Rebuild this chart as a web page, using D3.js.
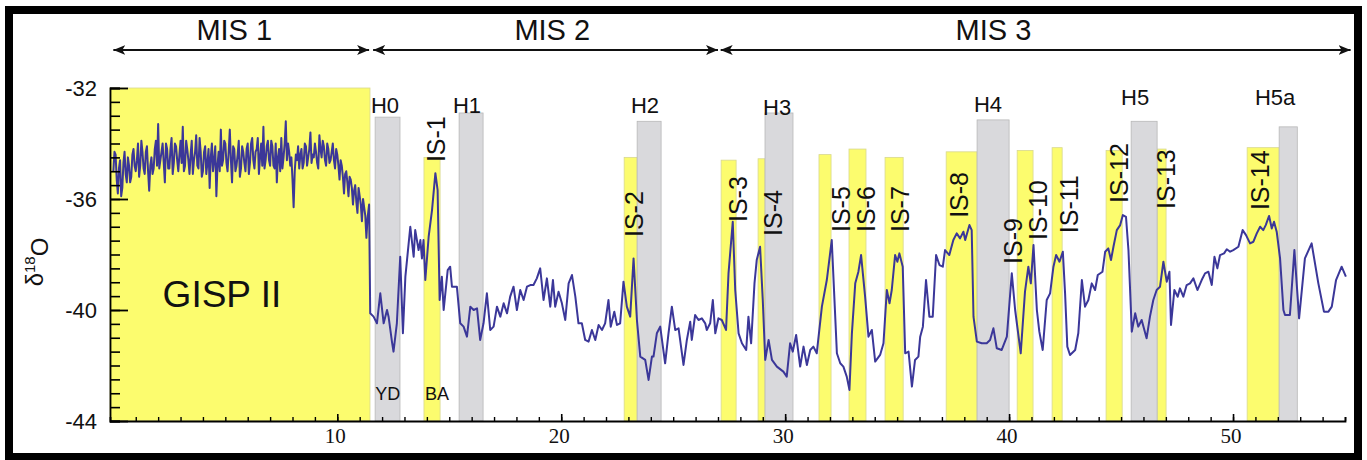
<!DOCTYPE html>
<meta charset="utf-8"/>
<style>
  html, body { margin: 0; padding: 0; background: #fff; }
  svg { display: block; }
  text { font-family: "Liberation Sans", Arial, sans-serif; fill: #111; }
  .tick-num { font-family: "Liberation Serif", "DejaVu Serif", serif; }
</style>
<body>
<svg width="1367" height="460"></svg>
</body>
<script src="https://d3js.org/d3.v7.min.js"></script>
<script>

  // GISP II d18O record, [age ka, d18O permil]
  var gispRecord = [
    [0.0,-35.0],[0.05,-34.3],[0.1,-34.4],[0.15,-35.3],[0.2,-35.8],[0.25,-34.9],[0.3,-34.6],[0.35,-35.9],
    [0.4,-35.6],[0.45,-34.7],[0.5,-34.3],[0.55,-35.1],[0.6,-35.4],[0.65,-34.5],[0.7,-34.8],[0.75,-35.4],
    [0.8,-35.2],[0.85,-34.4],[0.9,-34.2],[0.95,-34.8],[1.0,-35.0],[1.05,-34.6],[1.1,-34.0],[1.15,-35.2],
    [1.2,-34.8],[1.25,-33.9],[1.3,-34.3],[1.35,-34.9],[1.4,-35.1],[1.45,-34.3],[1.5,-34.1],[1.55,-35.0],
    [1.6,-35.7],[1.65,-34.8],[1.7,-34.5],[1.75,-35.1],[1.8,-34.9],[1.85,-34.2],[1.9,-33.9],[1.95,-34.8],
    [2.0,-33.3],[2.05,-34.9],[2.1,-34.6],[2.15,-34.3],[2.2,-34.0],[2.25,-34.7],[2.3,-35.4],[2.35,-34.0],
    [2.4,-34.2],[2.45,-34.9],[2.5,-34.9],[2.55,-34.2],[2.6,-33.8],[2.65,-35.1],[2.7,-34.7],[2.75,-34.0],
    [2.8,-34.1],[2.85,-34.6],[2.9,-35.0],[2.95,-34.4],[3.0,-33.9],[3.05,-34.7],[3.1,-33.4],[3.15,-35.0],
    [3.2,-34.8],[3.25,-33.9],[3.3,-34.2],[3.35,-34.6],[3.4,-35.1],[3.45,-34.4],[3.5,-33.9],[3.55,-35.1],
    [3.6,-34.6],[3.65,-34.3],[3.7,-33.7],[3.75,-34.8],[3.8,-34.9],[3.85,-33.8],[3.9,-34.3],[3.95,-35.2],
    [4.0,-35.0],[4.05,-34.3],[4.1,-34.1],[4.15,-35.1],[4.2,-34.7],[4.25,-34.2],[4.3,-35.6],[4.35,-34.5],
    [4.4,-34.0],[4.45,-35.0],[4.5,-34.6],[4.55,-34.1],[4.6,-35.9],[4.65,-34.8],[4.7,-34.3],[4.75,-35.0],
    [4.8,-33.5],[4.85,-34.8],[4.9,-34.6],[4.95,-33.9],[5.0,-34.0],[5.05,-34.7],[5.1,-35.0],[5.15,-34.3],
    [5.2,-33.5],[5.25,-34.6],[5.3,-35.4],[5.35,-34.1],[5.4,-34.2],[5.45,-35.0],[5.5,-34.8],[5.55,-34.4],
    [5.6,-33.9],[5.65,-35.2],[5.7,-34.9],[5.75,-34.1],[5.8,-34.3],[5.85,-34.7],[5.9,-35.0],[5.95,-34.2],
    [6.0,-34.0],[6.05,-35.1],[6.1,-34.7],[6.15,-34.0],[6.2,-33.8],[6.25,-34.6],[6.3,-34.9],[6.35,-34.3],
    [6.4,-34.2],[6.45,-33.8],[6.5,-35.1],[6.55,-34.5],[6.6,-34.0],[6.65,-34.8],[6.7,-33.4],[6.75,-34.9],
    [6.8,-34.6],[6.85,-34.1],[6.9,-33.9],[6.95,-34.6],[7.0,-34.8],[7.05,-33.9],[7.1,-34.1],[7.15,-34.8],
    [7.2,-34.9],[7.25,-34.0],[7.3,-35.4],[7.35,-34.5],[7.4,-34.2],[7.45,-35.0],[7.5,-33.8],[7.55,-34.9],
    [7.6,-34.5],[7.65,-34.0],[7.7,-33.2],[7.75,-34.6],[7.8,-34.0],[7.85,-34.3],[7.9,-34.8],[7.95,-34.5],
    [8.0,-35.3],[8.05,-36.3],[8.1,-35.0],[8.15,-34.4],[8.2,-34.6],[8.25,-34.1],[8.3,-34.9],[8.35,-34.4],
    [8.4,-34.2],[8.45,-34.9],[8.5,-34.7],[8.55,-34.0],[8.6,-34.1],[8.65,-34.8],[8.7,-34.5],[8.75,-34.2],
    [8.8,-33.6],[8.85,-34.7],[8.9,-34.4],[8.95,-34.5],[9.0,-34.0],[9.05,-34.3],[9.1,-34.7],[9.15,-34.9],
    [9.2,-33.7],[9.25,-34.2],[9.3,-34.5],[9.35,-33.9],[9.4,-34.1],[9.45,-34.6],[9.5,-34.8],[9.55,-34.0],
    [9.6,-34.2],[9.65,-34.7],[9.7,-34.6],[9.75,-34.3],[9.8,-34.0],[9.85,-34.6],[9.9,-34.9],[9.95,-34.2],
    [10.0,-34.4],[10.05,-34.8],[10.1,-35.3],[10.15,-34.6],[10.2,-34.8],[10.25,-35.2],[10.3,-35.8],[10.35,-35.1],
    [10.4,-35.0],[10.45,-35.4],[10.5,-35.9],[10.55,-35.2],[10.6,-35.3],[10.65,-35.6],[10.7,-36.2],[10.75,-35.7],
    [10.8,-35.5],[10.85,-36.1],[10.9,-36.5],[10.95,-35.6],[11.0,-35.9],[11.05,-36.2],[11.1,-36.8],[11.15,-36.0],
    [11.2,-36.3],[11.25,-36.6],[11.3,-37.4],[11.35,-36.7],[11.42,-36.2],
    [11.47,-40.12],[11.62,-40.24],[11.77,-40.48],[11.92,-39.40],[12.07,-40.48],[12.22,-40.0],[12.29,-40.24],
    [12.44,-41.14],[12.51,-41.50],[12.66,-40.48],[12.81,-38.08],[12.93,-40.84],[13.04,-38.80],[13.26,-37.00],
    [13.41,-38.08],[13.48,-37.12],[13.63,-37.84],[13.71,-37.48],[13.78,-38.14],[13.85,-37.48],[13.93,-38.92],
    [14.08,-37.36],[14.23,-36.40],[14.38,-35.07],[14.48,-35.68],[14.57,-39.64],[14.67,-38.80],[14.75,-40.0],
    [14.93,-38.56],[15.04,-38.44],[15.12,-39.16],[15.34,-39.16],[15.49,-40.48],[15.64,-40.60],[15.79,-40.96],
    [15.94,-39.88],[16.09,-40.0],[16.24,-39.94],[16.38,-41.08],[16.53,-40.48],[16.68,-39.40],[16.83,-40.72],
    [16.98,-40.60],[17.13,-39.88],[17.28,-40.24],[17.43,-39.76],[17.58,-40.12],[17.72,-39.52],[17.87,-39.16],
    [18.02,-40.0],[18.17,-39.28],[18.32,-39.64],[18.47,-39.16],[18.62,-39.10],[18.76,-39.10],[18.91,-38.86],
    [19.06,-38.50],[19.21,-39.64],[19.36,-38.86],[19.51,-39.88],[19.63,-38.92],[19.73,-39.88],[19.88,-39.34],
    [20.03,-39.76],[20.18,-40.36],[20.33,-39.04],[20.48,-38.74],[20.63,-39.52],[20.77,-40.48],[20.92,-40.48],
    [21.07,-41.08],[21.22,-41.14],[21.37,-40.72],[21.52,-41.08],[21.67,-40.54],[21.82,-40.72],[21.96,-40.48],
    [22.11,-39.64],[22.21,-40.60],[22.37,-40.06],[22.49,-40.54],[22.63,-40.48],[22.78,-38.98],[22.93,-39.88],
    [23.08,-40.24],[23.23,-38.14],[23.38,-40.36],[23.53,-41.68],[23.75,-41.80],[23.90,-42.52],[24.05,-41.68],
    [24.12,-41.68],[24.27,-40.84],[24.42,-40.60],[24.64,-41.92],[24.79,-40.84],[24.94,-39.88],[25.09,-40.72],
    [25.24,-40.66],[25.46,-41.98],[25.61,-41.08],[25.76,-40.42],[25.83,-41.08],[25.98,-40.18],[26.13,-40.36],
    [26.28,-40.30],[26.43,-40.48],[26.50,-40.72],[26.65,-40.48],[26.77,-39.64],[26.88,-40.84],[27.02,-40.30],
    [27.17,-40.36],[27.36,-40.72],[27.47,-38.68],[27.66,-36.82],[27.77,-39.28],[27.92,-40.84],[28.07,-41.20],
    [28.26,-41.44],[28.36,-40.24],[28.48,-41.20],[28.63,-39.04],[28.73,-38.20],[28.88,-37.72],[29.00,-39.64],
    [29.11,-41.80],[29.26,-41.08],[29.41,-41.80],[29.63,-42.04],[29.92,-42.22],[30.07,-42.40],[30.22,-41.20],
    [30.34,-41.50],[30.49,-40.90],[30.67,-42.04],[30.82,-41.32],[30.97,-41.98],[31.12,-41.44],[31.26,-41.32],
    [31.41,-41.56],[31.64,-39.88],[31.86,-38.92],[32.08,-37.48],[32.31,-41.56],[32.46,-41.92],[32.60,-42.04],
    [32.75,-42.40],[32.87,-42.88],[32.98,-40.84],[33.13,-39.04],[33.27,-38.62],[33.39,-38.02],[33.57,-39.52],
    [33.72,-40.96],[33.87,-40.72],[34.02,-41.86],[34.24,-41.62],[34.39,-41.20],[34.54,-39.28],[34.66,-39.76],
    [34.76,-39.28],[34.91,-38.02],[35.01,-38.26],[35.10,-37.96],[35.25,-38.44],[35.36,-41.56],[35.51,-41.50],
    [35.66,-42.76],[35.80,-41.80],[35.95,-41.68],[36.03,-40.96],[36.15,-40.60],[36.29,-38.92],[36.44,-40.24],
    [36.59,-40.24],[36.74,-38.02],[36.89,-38.38],[37.04,-38.44],[37.14,-37.84],[37.33,-38.02],[37.51,-37.48],
    [37.66,-37.24],[37.81,-37.42],[37.96,-37.18],[38.04,-37.48],[38.23,-36.94],[38.33,-37.12],[38.41,-40.24],
    [38.56,-41.14],[38.78,-41.20],[39.00,-41.20],[39.15,-41.08],[39.30,-40.66],[39.45,-41.38],[39.67,-41.44],
    [39.90,-40.96],[40.12,-38.68],[40.27,-40.00],[40.52,-41.56],[40.71,-39.34],[40.86,-38.44],[40.97,-39.04],
    [41.09,-37.66],[41.24,-40.00],[41.35,-40.78],[41.50,-41.44],[41.68,-39.64],[41.83,-39.40],[41.98,-38.44],
    [42.10,-38.02],[42.25,-38.26],[42.40,-37.90],[42.50,-39.40],[42.60,-41.32],[42.72,-41.62],[42.95,-41.44],
    [43.09,-40.84],[43.25,-38.92],[43.39,-39.88],[43.54,-39.64],[43.69,-39.04],[43.84,-39.28],[43.96,-38.74],
    [44.17,-38.62],[44.29,-37.90],[44.43,-37.78],[44.55,-38.20],[44.66,-37.72],[44.81,-37.12],[44.96,-36.94],
    [45.08,-36.58],[45.22,-36.64],[45.33,-37.84],[45.48,-40.78],[45.63,-40.12],[45.77,-40.60],[45.92,-40.36],
    [46.14,-41.02],[46.29,-40.24],[46.44,-39.64],[46.59,-39.28],[46.74,-39.16],[46.89,-38.26],[47.04,-38.98],
    [47.16,-38.62],[47.23,-40.54],[47.38,-39.28],[47.53,-39.52],[47.63,-39.22],[47.78,-39.52],[47.93,-39.10],
    [48.08,-39.04],[48.23,-38.86],[48.41,-39.28],[48.60,-38.92],[48.75,-38.68],[48.90,-38.62],[49.05,-39.10],
    [49.17,-38.08],[49.30,-38.50],[49.42,-38.02],[49.60,-37.96],[49.72,-37.81],[49.87,-37.90],[50.01,-37.84],
    [50.24,-37.72],[50.43,-37.12],[50.58,-37.30],[50.76,-37.60],[50.91,-37.54],[51.06,-37.24],[51.21,-37.00],
    [51.35,-37.12],[51.46,-36.94],[51.61,-36.61],[51.73,-37.06],[51.83,-36.82],[51.95,-37.18],[52.10,-38.14],
    [52.25,-40.00],[52.32,-40.18],[52.54,-40.18],[52.74,-37.84],[52.95,-40.30],[53.21,-38.14],[53.51,-37.60],
    [53.81,-39.04],[54.06,-40.06],[54.26,-40.06],[54.41,-39.88],[54.60,-38.92],[54.85,-38.44],[55.04,-38.80]
  ]

  // warm intervals (yellow): [from ka, to ka, top d18O]
  var warmBars = [
    [-0.15, 11.46, -32.0],
    [13.87, 14.59, -34.5],
    [22.81, 23.39, -34.5],
    [27.14, 27.81, -34.6],
    [28.79, 29.10, -34.55],
    [31.51, 32.05, -34.4],
    [32.85, 33.61, -34.2],
    [34.46, 35.27, -34.5],
    [37.19, 38.57, -34.3],
    [40.36, 41.07, -34.25],
    [41.92, 42.37, -34.15],
    [44.33, 45.05, -34.25],
    [46.61, 47.01, -34.2],
    [50.63, 52.06, -34.15]
  ]

  // Heinrich events (grey): [from ka, to ka, top d18O]
  var heinrichBars = [
    [11.69, 12.80, -33.05],
    [15.44, 16.51, -32.9],
    [23.39, 24.46, -33.2],
    [29.10, 30.35, -32.9],
    [38.57, 40.00, -33.15],
    [45.45, 46.61, -33.2],
    [52.06, 52.87, -33.4]
  ]

  var heinrichNames = ["H0", "H1", "H2", "H3", "H4", "H5", "H5a"]
  var heinrichLabelAt = [[12.13,-32.9],[15.79,-32.9],[23.74,-32.9],[29.64,-32.97],[39.06,-32.86],[45.63,-32.61],[51.88,-32.61]]

  var isNames = ["IS-1","IS-2","IS-3","IS-4","IS-5","IS-6","IS-7","IS-8","IS-9","IS-10","IS-11","IS-12","IS-13","IS-14"]
  var isLabelAt = [[14.81,-34.67],[23.66,-37.37],[28.30,-36.83],[29.86,-37.33],[32.90,-37.19],[34.02,-37.19],
    [35.53,-37.19],[38.17,-36.68],[40.58,-38.34],[41.70,-37.48],[43.08,-37.23],[45.32,-36.14],[47.42,-36.36],[51.62,-36.40]]

  var misNames = ["MIS 1", "MIS 2", "MIS 3"]
  var misSpans = [[0.0, 11.42], [11.6, 27.0], [27.12, 55.25]]
  var misLabelAge = [5.4, 19.6, 39.3]

  var yTicksMajor = [-32, -36, -40, -44]
  var xTicksMajor = [10, 20, 30, 40, 50]

  var svg = d3.select("svg"),
    width = +svg.attr("width"),
    height = +svg.attr("height")

  var x = d3.scaleLinear().domain([-0.15, 55]).range([110, 1345])
  var y = d3.scaleLinear().domain([-44, -32]).range([421, 88])

  svg.append("rect")
    .attr("width", width).attr("height", height).attr("fill", "#fff")

  // shaded intervals
  svg.append("g").selectAll("rect")
    .data(warmBars)
    .enter().append("rect")
    .attr("x", function (d) { return x(d[0]) })
    .attr("y", function (d) { return y(d[2]) })
    .attr("width", function (d) { return x(d[1]) - x(d[0]) })
    .attr("height", function (d) { return y(-44) - y(d[2]) })
    .attr("fill", "#fcfc6e")
    .attr("stroke", "#d8d890")
    .attr("stroke-width", 0.8)

  svg.append("g").selectAll("rect")
    .data(heinrichBars)
    .enter().append("rect")
    .attr("x", function (d) { return x(d[0]) })
    .attr("y", function (d) { return y(d[2]) })
    .attr("width", function (d) { return x(d[1]) - x(d[0]) })
    .attr("height", function (d) { return y(-44) - y(d[2]) })
    .attr("fill", "#d9d9dc")
    .attr("stroke", "#b8b8b8")
    .attr("stroke-width", 0.8)

  // the record
  var line = d3.line()
    .x(function (d) { return x(d[0]) })
    .y(function (d) { return y(d[1]) })

  svg.append("path")
    .datum(gispRecord)
    .attr("d", line)
    .attr("fill", "none")
    .attr("stroke", "#3b3799")
    .attr("stroke-width", 2)
    .attr("stroke-linejoin", "round")

  // y axis, ticks inward
  var yMinor = d3.range(-44, -31.9, 0.5)
  svg.append("g")
    .attr("transform", "translate(" + x(-0.15) + ",0)")
    .call(d3.axisRight(y).tickValues(yMinor).tickSize(10).tickFormat(""))
    .call(function (g) { g.selectAll(".tick line").attr("stroke-width", 1.6) })
    .call(function (g) { g.select(".domain").attr("stroke-width", 1.8) })
  svg.append("g")
    .attr("transform", "translate(" + x(-0.15) + ",0)")
    .call(d3.axisRight(y).tickValues(yTicksMajor).tickSize(18).tickFormat(""))
    .call(function (g) { g.selectAll(".tick line").attr("stroke-width", 1.8) })
    .call(function (g) { g.select(".domain").remove() })

  svg.append("g").selectAll("text")
    .data(yTicksMajor)
    .enter().append("text")
    .attr("x", 97)
    .attr("y", function (d) { return y(d) })
    .attr("dy", "0.36em")
    .attr("text-anchor", "end")
    .style("font-size", "22px")
    .text(function (d) { return "-" + Math.abs(d) })

  // x axis, ticks inward
  svg.append("g")
    .attr("transform", "translate(0," + y(-44) + ")")
    .call(d3.axisTop(x).tickValues(d3.range(1, 56, 1)).tickSize(4).tickFormat(""))
    .call(function (g) { g.selectAll(".tick line").attr("stroke-width", 1.4) })
    .call(function (g) { g.select(".domain").attr("stroke-width", 1.8) })
  svg.append("g")
    .attr("transform", "translate(0," + y(-44) + ")")
    .call(d3.axisTop(x).tickValues(xTicksMajor).tickSize(7).tickFormat(""))
    .call(function (g) { g.selectAll(".tick line").attr("stroke-width", 1.6) })
    .call(function (g) { g.select(".domain").remove() })

  svg.append("g").selectAll("text")
    .data(xTicksMajor)
    .enter().append("text")
    .attr("class", "tick-num")
    .attr("x", function (d) { return x(d) - 2 })
    .attr("y", 443)
    .attr("text-anchor", "middle")
    .style("font-size", "21px")
    .text(function (d) { return d })

  // y label
  var ylab = svg.append("text")
    .attr("transform", "translate(43,262) rotate(-90)")
    .attr("text-anchor", "middle")
    .style("font-size", "24px")
  ylab.append("tspan").text("δ")
  ylab.append("tspan").attr("dy", "-0.55em").style("font-size", "15px").text("18")
  ylab.append("tspan").attr("dy", "0.55em").text("O")

  // Heinrich labels
  svg.append("g").selectAll("text")
    .data(heinrichNames)
    .enter().append("text")
    .attr("x", function (d, i) { return x(heinrichLabelAt[i][0]) })
    .attr("y", function (d, i) { return y(heinrichLabelAt[i][1]) })
    .attr("text-anchor", "middle")
    .style("font-size", "22px")
    .text(function (d) { return d })

  // interstadial labels, rotated
  svg.append("g").selectAll("text")
    .data(isNames)
    .enter().append("text")
    .attr("transform", function (d, i) {
      return "translate(" + x(isLabelAt[i][0]) + "," + y(isLabelAt[i][1]) + ") rotate(-90)"
    })
    .style("font-size", "25px")
    .text(function (d) { return d })

  // period markers
  var defs = svg.append("defs")
  defs.append("marker")
    .attr("id", "head")
    .attr("viewBox", "0 -5 12 10")
    .attr("refX", 12).attr("refY", 0)
    .attr("markerWidth", 12).attr("markerHeight", 10)
    .attr("markerUnits", "userSpaceOnUse")
    .attr("orient", "auto-start-reverse")
    .append("path")
    .attr("d", "M0,-5L12,0L0,5L3,0Z")
    .attr("fill", "#111")

  svg.append("g").selectAll("line")
    .data(misSpans)
    .enter().append("line")
    .attr("x1", function (d) { return x(d[0]) })
    .attr("x2", function (d) { return x(d[1]) })
    .attr("y1", 50).attr("y2", 50)
    .attr("stroke", "#111")
    .attr("stroke-width", 2)
    .attr("marker-start", "url(#head)")
    .attr("marker-end", "url(#head)")

  svg.append("g").selectAll("text")
    .data(misNames)
    .enter().append("text")
    .attr("x", function (d, i) { return x(misLabelAge[i]) })
    .attr("y", 40)
    .attr("text-anchor", "middle")
    .style("font-size", "29px")
    .text(function (d) { return d })

  // in-plot notes
  svg.append("text")
    .attr("x", x(2.2)).attr("y", y(-39.9))
    .style("font-size", "37px")
    .text("GISP II")
  svg.append("text")
    .attr("x", x(12.25)).attr("y", y(-43.25))
    .attr("text-anchor", "middle")
    .style("font-size", "18px")
    .text("YD")
  svg.append("text")
    .attr("x", x(14.45)).attr("y", y(-43.25))
    .attr("text-anchor", "middle")
    .style("font-size", "18px")
    .text("BA")

  // frame
  svg.append("rect")
    .attr("x", 9).attr("y", 10)
    .attr("width", 1349).attr("height", 447)
    .attr("fill", "none")
    .attr("stroke", "#000")
    .attr("stroke-width", 8)

</script>
